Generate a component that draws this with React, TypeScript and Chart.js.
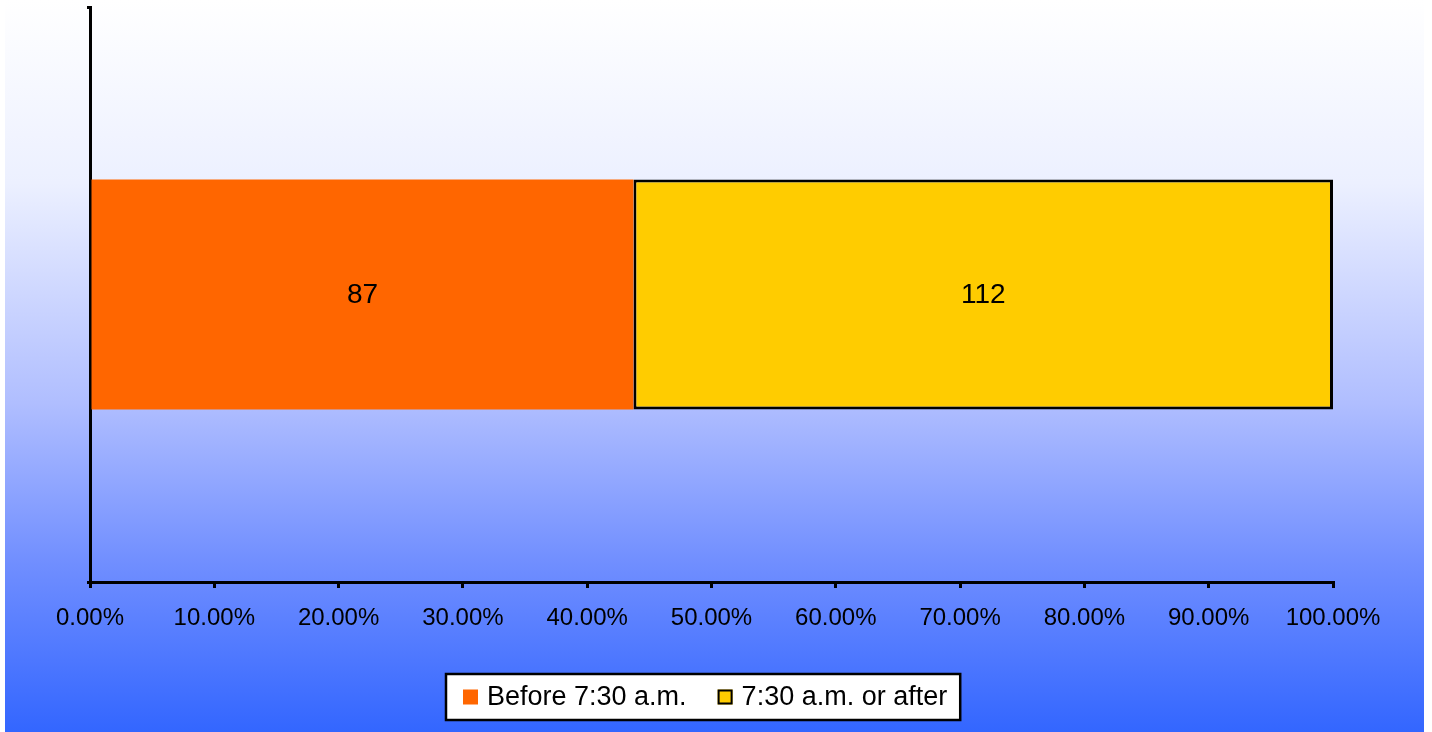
import React, { useEffect, useRef } from "react";
import { Chart, registerables } from "chart.js";

Chart.register(...registerables);

const categories = [""];
const seriesLabels = ["Before 7:30 a.m.", "7:30 a.m. or after"];
const beforeCounts = [87];
const afterCounts = [112];
const xTickMin = 0;
const xTickMax = 100;
const xTickStep = 10;

const FONT = '"Liberation Sans", Arial, Helvetica, sans-serif';

const totals = categories.map((_, i) => beforeCounts[i] + afterCounts[i]);
const beforePct = beforeCounts.map((v, i) => (v / totals[i]) * 100);
const afterPct = afterCounts.map((v, i) => (v / totals[i]) * 100);
const countsBySeries = [beforeCounts, afterCounts];

const dataLabelPlugin = {
  id: "countLabels",
  afterDatasetsDraw(chart: any) {
    const ctx = chart.ctx;
    ctx.save();
    ctx.font = `28px ${FONT}`;
    ctx.fillStyle = "#000";
    ctx.textAlign = "center";
    ctx.textBaseline = "middle";
    chart.data.datasets.forEach((_: any, di: number) => {
      const meta = chart.getDatasetMeta(di);
      meta.data.forEach((el: any, i: number) => {
        const p = el.getCenterPoint();
        ctx.fillText(String(countsBySeries[di][i]), p.x, p.y + 1);
      });
    });
    ctx.restore();
  },
};

const boxLegendPlugin = {
  id: "boxLegend",
  afterDraw(chart: any) {
    const ctx = chart.ctx;
    ctx.save();
    ctx.font = `27px ${FONT}`;
    const box = 15;
    const gap = 9;
    const itemGap = 31;
    const padL = 17;
    const padR = 13;
    const left = 446;
    const top = 674;
    const height = 46;
    const items = chart.data.datasets.map((ds: any) => ({
      label: ds.label,
      fill: ds.backgroundColor,
      stroke: ds.borderWidth ? ds.borderColor : null,
      w: ctx.measureText(ds.label).width,
    }));
    let total = padL + padR + itemGap * (items.length - 1);
    items.forEach((it: any) => (total += box + gap + it.w));
    ctx.fillStyle = "#fff";
    ctx.fillRect(left, top, total, height);
    ctx.strokeStyle = "#000";
    ctx.lineWidth = 2.5;
    ctx.strokeRect(left, top, total, height);
    let x = left + padL;
    const cy = top + height / 2;
    items.forEach((it: any) => {
      ctx.fillStyle = it.fill;
      ctx.fillRect(x, cy - box / 2, box, box);
      if (it.stroke) {
        ctx.strokeStyle = it.stroke;
        ctx.lineWidth = 2;
        ctx.strokeRect(x + 1, cy - box / 2 + 1, box - 2, box - 2);
      }
      x += box + gap;
      ctx.fillStyle = "#000";
      ctx.textAlign = "left";
      ctx.textBaseline = "middle";
      ctx.fillText(it.label, x, cy + 1);
      x += it.w + itemGap;
    });
    ctx.restore();
  },
};

export default function App() {
  const ref = useRef<HTMLCanvasElement | null>(null);

  useEffect(() => {
    if (!ref.current) return;
    const chart = new Chart(ref.current, {
      type: "bar",
      data: {
        labels: categories,
        datasets: [
          {
            label: seriesLabels[0],
            data: beforePct,
            backgroundColor: "#FF6600",
            borderWidth: 0,
            categoryPercentage: 0.4,
            barPercentage: 1,
          },
          {
            label: seriesLabels[1],
            data: afterPct,
            backgroundColor: "#FFCC00",
            borderColor: "#000000",
            borderWidth: 3,
            borderSkipped: false,
            categoryPercentage: 0.4,
            barPercentage: 1,
          },
        ],
      },
      options: {
        indexAxis: "y",
        responsive: false,
        animation: false,
        layout: { padding: { top: 7, right: 99, left: 0, bottom: 0 } },
        plugins: {
          legend: { display: false },
          tooltip: { enabled: false },
          title: { display: false },
        },
        scales: {
          x: {
            type: "linear",
            stacked: true,
            min: xTickMin,
            max: xTickMax,
            ticks: {
              stepSize: xTickStep,
              color: "#000",
              font: { family: FONT, size: 24 },
              padding: 16,
              maxRotation: 0,
              autoSkip: false,
              callback: (v: any) => Number(v).toFixed(2) + "%",
            },
            grid: {
              drawOnChartArea: false,
              drawTicks: true,
              tickLength: 6,
              color: "#000",
              lineWidth: 3,
            },
            border: { display: true, color: "#000", width: 3 },
            afterFit: (scale: any) => {
              scale.height = 150;
            },
          },
          y: {
            type: "category",
            stacked: true,
            offset: true,
            ticks: { display: false },
            grid: {
              offset: true,
              drawOnChartArea: false,
              drawTicks: true,
              tickLength: 3,
              color: "#000",
              lineWidth: 3,
            },
            border: { display: true, color: "#000", width: 3 },
            afterFit: (scale: any) => {
              scale.width = 90;
            },
          },
        },
      },
      plugins: [dataLabelPlugin, boxLegendPlugin],
    });
    return () => chart.destroy();
  }, []);

  return (
    <div
      style={{
        position: "absolute",
        left: 0,
        top: 0,
        width: 1432,
        height: 732,
        background: "#ffffff",
        overflow: "hidden",
      }}
    >
      <div
        style={{
          position: "absolute",
          left: 5,
          top: 0,
          width: 1419,
          height: 732,
          background:
            "linear-gradient(to bottom, #ffffff 0%, rgb(236,240,255) 25%, rgb(176,190,255) 55%, rgb(112,142,255) 77%, rgb(51,102,255) 100%)",
        }}
      />
      <canvas
        ref={ref}
        width={1432}
        height={732}
        style={{ position: "absolute", left: 0, top: 0, width: 1432, height: 732 }}
      />
    </div>
  );
}
